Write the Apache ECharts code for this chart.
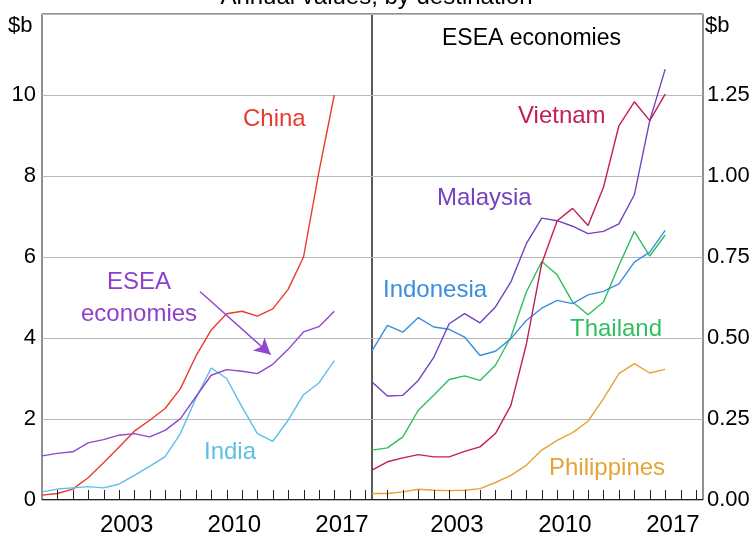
<!DOCTYPE html>
<html><head><meta charset="utf-8">
<script src="https://cdn.jsdelivr.net/npm/echarts@6/dist/echarts.min.js"></script>
<style>html,body{margin:0;padding:0;background:#fff}#c{width:753px;height:537px}</style>
</head><body><div id="c"></div>
<script>
const years = [1998,1999,2000,2001,2002,2003,2004,2005,2006,2007,2008,2009,2010,2011,2012,2013,2014,2015,2016,2017];
const tickYears = [1999,2000,2001,2002,2003,2004,2005,2006,2007,2008,2009,2010,2011,2012,2013,2014,2015,2016,2017,2018,2019];
const xTickLabels = [2003, 2010, 2017];
const china = [0.12,0.16,0.27,0.55,0.92,1.30,1.70,1.97,2.26,2.75,3.55,4.20,4.60,4.66,4.54,4.72,5.20,6.00,8.10,10.00];
const eseaTotal = [1.09,1.15,1.19,1.41,1.49,1.60,1.64,1.56,1.72,2.01,2.55,3.08,3.22,3.18,3.12,3.35,3.72,4.15,4.28,4.66];
const india = [0.20,0.27,0.30,0.33,0.30,0.39,0.61,0.83,1.07,1.64,2.51,3.26,3.00,2.30,1.64,1.45,1.97,2.60,2.89,3.44];
const vietnam = [0.092,0.118,0.130,0.140,0.133,0.133,0.150,0.164,0.205,0.292,0.48,0.73,0.862,0.90,0.847,0.965,1.155,1.229,1.171,1.253];
const malaysia = [0.364,0.321,0.323,0.369,0.44,0.544,0.575,0.547,0.596,0.673,0.791,0.870,0.862,0.845,0.822,0.829,0.852,0.942,1.171,1.330];
const indonesia = [0.46,0.539,0.518,0.563,0.534,0.527,0.503,0.446,0.459,0.498,0.554,0.592,0.616,0.606,0.633,0.644,0.667,0.734,0.765,0.832];
const thailand = [0.154,0.161,0.195,0.277,0.323,0.372,0.383,0.369,0.416,0.503,0.642,0.736,0.695,0.611,0.572,0.611,0.724,0.829,0.753,0.818];
const philippines = [0.020,0.020,0.025,0.033,0.030,0.029,0.030,0.035,0.054,0.076,0.107,0.154,0.184,0.208,0.243,0.313,0.390,0.421,0.392,0.403];

const FONT = '"Liberation Sans", Arial, sans-serif';
const C = {
  china:'#ea3b2e', esea:'#9146cf', india:'#5cbfe9',
  vietnam:'#c31d55', malaysia:'#7442c0', indonesia:'#3a8ede', thailand:'#2fbf5f', philippines:'#e4a437'
};

function pairs(arr){ return years.map((y,i)=>[y, arr[i]]); }

function xAx(i){
  return {
    type:'value', gridIndex:i, min:1998, max:2019.45,
    axisLine:{show:false}, axisTick:{show:false},
    axisLabel:{show:true, customValues: xTickLabels.map(v=>v+0.5),
      formatter: v => String(Math.floor(v)), fontSize:24, color:'#000', margin:13, fontFamily:FONT},
    splitLine:{show:false}
  };
}

function line(name, arr, color, xi, yi, extra){
  return Object.assign({
    name, type:'line', xAxisIndex:xi, yAxisIndex:yi, data:pairs(arr),
    showSymbol:false, symbol:'none', smooth:false, animation:false,
    lineStyle:{color, width:1.4}, itemStyle:{color}
  }, extra||{});
}

const chart = echarts.init(document.getElementById('c'), null, {renderer:'canvas'});
chart.setOption({
  animation:false,
  backgroundColor:'#fff',
  grid:[
    {left:42, top:14, width:330, bottom:36, show:true, borderColor:'#222', borderWidth:1, backgroundColor:'transparent'},
    {left:372, top:14, width:331, bottom:36, show:true, borderColor:'#222', borderWidth:1, backgroundColor:'transparent'}
  ],
  xAxis:[xAx(0), xAx(1)],
  yAxis:[
    {type:'value', gridIndex:0, position:'left', min:0, max:12, interval:2,
     axisLine:{show:false}, axisTick:{show:false},
     splitLine:{show:true, lineStyle:{color:'#b8b8b8', width:1}},
     axisLabel:{fontSize:22, color:'#000', margin:6, fontFamily:FONT, formatter: v => v>=12 ? '' : String(v)}},
    {type:'value', gridIndex:1, position:'right', min:0, max:1.5, interval:0.25,
     axisLine:{show:false}, axisTick:{show:false},
     splitLine:{show:true, lineStyle:{color:'#b8b8b8', width:1}},
     axisLabel:{fontSize:22, color:'#000', margin:4, fontFamily:FONT, formatter: v => v>=1.5 ? '' : v.toFixed(2)}}
  ],
  series:[
    line('China', china, C.china, 0, 0),
    line('India', india, C.india, 0, 0),
    line('ESEA economies', eseaTotal, C.esea, 0, 0, {
      markLine:{silent:true, animation:false, symbol:['none','arrow'], symbolSize:[13,16],
        label:{show:false}, lineStyle:{color:C.esea, width:1.4, type:'solid'},
        data:[[{coord:[2008.27,5.15]},{coord:[2012.86,3.59]}]]}
    }),
    line('Philippines', philippines, C.philippines, 1, 1),
    line('Thailand', thailand, C.thailand, 1, 1),
    line('Indonesia', indonesia, C.indonesia, 1, 1),
    line('Malaysia', malaysia, C.malaysia, 1, 1),
    line('Vietnam', vietnam, C.vietnam, 1, 1)
  ]
});

// Axis ticks and bottom axis line, positioned through the chart's own x/y scales
const graphics = [
  {type:'text', left:'center', top:-15, style:{text:'Annual values, by destination', fill:'#000', font:'24px '+FONT}},
  {type:'text', left:8, top:15, style:{text:'$b', fill:'#000', font:'22px '+FONT}},
  {type:'text', left:705, top:15, style:{text:'$b', fill:'#000', font:'22px '+FONT}},
  {type:'text', left:442, top:27, style:{text:'ESEA economies', fill:'#000', font:'23px '+FONT}},
  {type:'text', left:243, top:107, style:{text:'China', fill:C.china, font:'24px '+FONT}},
  {type:'text', left:107, top:270, style:{text:'ESEA', fill:'#8f3fc9', font:'24px '+FONT}},
  {type:'text', left:81, top:302, style:{text:'economies', fill:'#8f3fc9', font:'24px '+FONT}},
  {type:'text', left:204, top:440, style:{text:'India', fill:C.india, font:'24px '+FONT}},
  {type:'text', left:518, top:104, style:{text:'Vietnam', fill:C.vietnam, font:'24px '+FONT}},
  {type:'text', left:437, top:186, style:{text:'Malaysia', fill:C.malaysia, font:'24px '+FONT}},
  {type:'text', left:383, top:278, style:{text:'Indonesia', fill:C.indonesia, font:'24px '+FONT}},
  {type:'text', left:570, top:317, style:{text:'Thailand', fill:C.thailand, font:'24px '+FONT}},
  {type:'text', left:549, top:456, style:{text:'Philippines', fill:C.philippines, font:'24px '+FONT}}
];
[0, 1].forEach(gi => {
  const finder = {xAxisIndex: gi, yAxisIndex: gi};
  const a = chart.convertToPixel(finder, [1998, 0]);
  const b = chart.convertToPixel(finder, [2019.45, 0]);
  graphics.push({type:'line', z:50, silent:true,
    shape:{x1:a[0], y1:Math.round(a[1]) - 0.5, x2:b[0], y2:Math.round(a[1]) - 0.5},
    style:{stroke:'#222', lineWidth:1}});
  tickYears.forEach(t => {
    const p = chart.convertToPixel(finder, [t, 0]);
    const x = Math.round(p[0]) + 0.5;
    graphics.push({type:'line', z:50, silent:true,
      shape:{x1:x, y1:p[1], x2:x, y2:p[1] - 10},
      style:{stroke:'#222', lineWidth:1}});
  });
});
chart.setOption({graphic: graphics});
</script></body></html>
